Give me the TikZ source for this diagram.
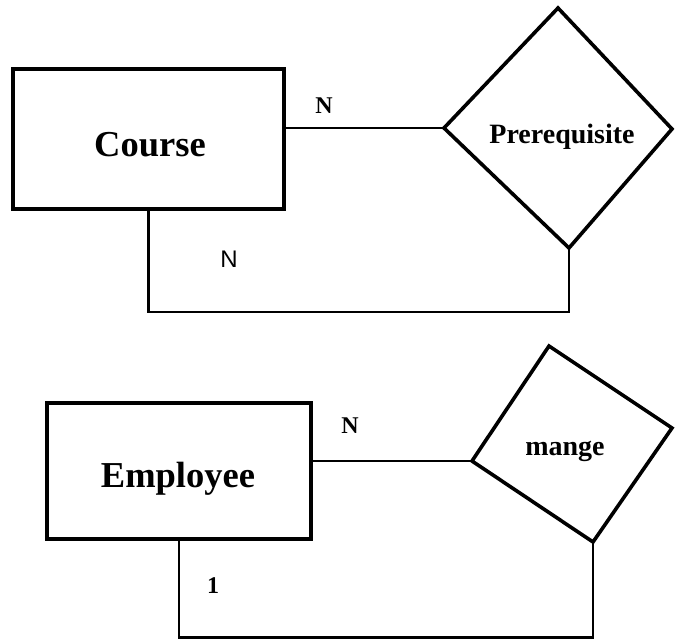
\documentclass[tikz,border=0pt]{standalone}
\usepackage{fontspec}
\setmainfont{Liberation Serif}
\setsansfont{Liberation Sans}
\begin{document}
\begin{tikzpicture}[x=1pt,y=-1pt,
  entity/.style={draw, line width=4.2pt, minimum width=#1, inner sep=0pt},
  relshape/.style={draw, line width=3.6pt, line join=miter},
  conn/.style={draw, line width=2.4pt},
  etext/.style={font=\fontsize{36.5}{36.5}\selectfont\bfseries, anchor=base, inner sep=0pt},
  rtext/.style={font=\fontsize{28}{28}\selectfont\bfseries, anchor=base, inner sep=0pt},
  card/.style={font=\fontsize{24}{24}\selectfont\bfseries, anchor=base, inner sep=0pt},
  cardsans/.style={font=\fontsize{24}{24}\selectfont\sffamily, anchor=base, inner sep=0pt}]
\useasboundingbox (0,0) rectangle (675,640);

% Course entity
\node[entity=271pt, minimum height=140pt] (course) at (148.5,139) {};
\node[etext] (coursetxt) at (150,156) {Course};

% Prerequisite relationship
\coordinate (pt) at (558,8);
\coordinate (pl) at (444,128);
\coordinate (pb) at (569,248);
\coordinate (pr) at (672,129);
\draw[relshape] (pt) -- (pr) -- (pb) -- (pl) -- cycle;
\node[rtext] (prereq) at (562,143) {Prerequisite};

\draw[conn] (course.east |- pl) -- (pl);
\coordinate (lp1) at (569,312);
\draw[conn] (course.south) |- (lp1) -- (pb);
\node[card] (n1) at (324,113) {N};
\node[cardsans] (n2) at (229,267) {N};

% Employee entity
\node[entity=264pt, minimum height=136pt] (emp) at (179,471) {};
\node[etext] (emptxt) at (178,487) {Employee};

% mange relationship
\coordinate (mt) at (549,346);
\coordinate (ml) at (472,461);
\coordinate (mb) at (593,542);
\coordinate (mr) at (672,428);
\draw[relshape] (mt) -- (mr) -- (mb) -- (ml) -- cycle;
\node[rtext] (mange) at (565,455) {mange};

\draw[conn] (emp.east |- ml) -- (ml);
\coordinate (lp2) at (593,637.5);
\draw[conn] (emp.south) |- (lp2) -- (mb);
\node[card] (n3) at (350,433) {N};
\node[card] (one) at (213,593) {1};
\end{tikzpicture}
\end{document}
